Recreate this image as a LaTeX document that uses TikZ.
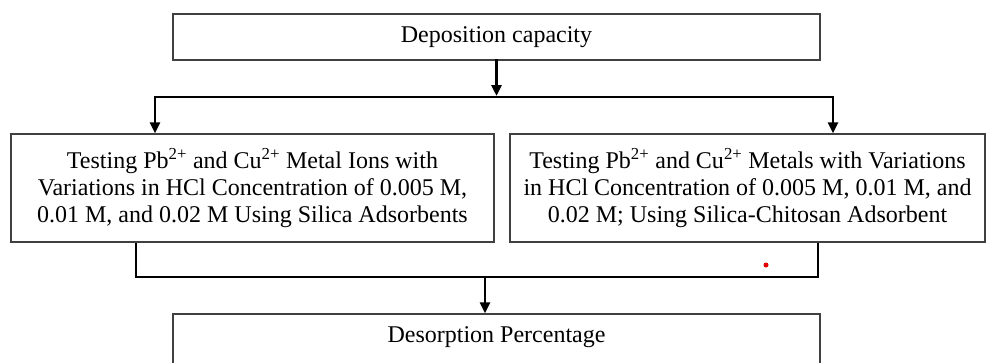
\documentclass[tikz,border=0pt]{standalone}
\usepackage{fontspec}
\setmainfont{Liberation Serif}
\usetikzlibrary{arrows.meta}
\tikzset{
  box/.style={draw=black!75, line width=1.3pt, align=center, inner sep=0pt,
    font=\fontsize{24}{27}\selectfont},
  link/.style={line width=2.8pt, line cap=rect, line join=miter},
  arr/.style={link, -{Triangle[length=11pt,width=10pt]}}
}
\begin{document}
\begin{tikzpicture}[x=1pt, y=-1pt]
    \useasboundingbox (0,0) rectangle (988,362);
    \node[box, minimum width=647, minimum height=46] (dep) at (496.5,37) {Deposition capacity};
    \node[box, minimum width=483, minimum height=108] (silica) at (252.5,188)
      {Testing Pb\textsuperscript{2+} and Cu\textsuperscript{2+} Metal Ions with\\
       Variations in HCl Concentration of 0.005 M,\\
       0.01 M, and 0.02 M Using Silica Adsorbents};
    \node[box, minimum width=475, minimum height=108] (chitosan) at (747.5,188)
      {Testing Pb\textsuperscript{2+} and Cu\textsuperscript{2+} Metals with Variations\\
       in HCl Concentration of 0.005 M, 0.01 M, and\\
       0.02 M; Using Silica-Chitosan Adsorbent};
    \node[box, minimum width=647, minimum height=52, text height=17pt, text depth=12pt]
      (desorp) at (496.5,340) {Desorption Percentage};
    % split below the top box
    \coordinate (sl) at (155,97);
    \coordinate (sr) at (833,97);
    \draw[link] (sl) -- (sr);
    \draw[arr] (dep.south) -- ([yshift=1pt]dep.south |- sl);
    \draw[arr] (sl) -- (sl |- silica.north);
    \draw[arr] (sr) -- (sr |- chitosan.north);
    % join into the bottom box
    \coordinate (jl) at (136,277);
    \coordinate (jr) at (818,277);
    \coordinate (jm) at (485,277);
    \draw[link] ([yshift=-2pt]jl |- silica.south) -- (jl) -- (jr) -- ([yshift=-2pt]jr |- chitosan.south);
    \draw[arr] (jm) -- (jm |- desorp.north);
    \fill[red!90!black] (766,265) circle (2.5pt);
\end{tikzpicture}
\end{document}
